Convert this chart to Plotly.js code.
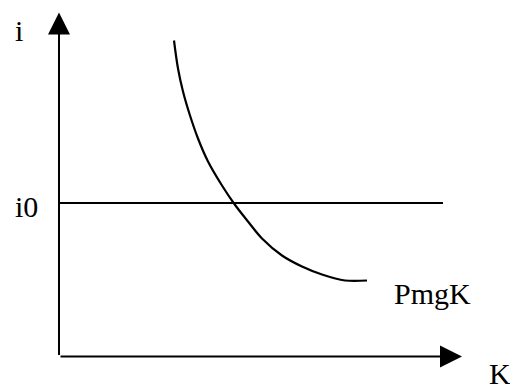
<!DOCTYPE html>
<html>
<head>
<meta charset="utf-8">
<script src="https://cdn.plot.ly/plotly-3.0.1.min.js"></script>
<style>
  html, body { margin: 0; padding: 0; background: #fff; }
  #chart { width: 510px; height: 390px; }
</style>
</head>
<body>
<div id="chart"></div>
<script>
// marginal product of capital curve (K, i)
var pmgK = [115, 119, 124, 131, 139, 149, 163, 175, 189, 203, 223, 243, 263, 286, 308];
var pmgI = [316, 288, 265, 241, 218, 195, 171, 153, 135, 118, 101, 90, 82, 76, 76];

// interest rate level i0
var i0K = [0, 384];
var i0I = [153.5, 153.5];

// axis tips
var kAxisEnd = 403;
var iAxisEnd = 344;

var font = {family: 'Liberation Serif', size: 30, color: '#000'};

var traces = [
    {
        x: i0K,
        y: i0I,
        type: 'scatter',
        mode: 'lines',
        line: {color: '#000', width: 2}
    },
    {
        x: pmgK,
        y: pmgI,
        type: 'scatter',
        mode: 'lines',
        line: {color: '#000', width: 2.2, shape: 'spline', smoothing: 1}
    }
];

var layout = {
    width: 510,
    height: 390,
    margin: {l: 0, r: 0, t: 0, b: 0},
    paper_bgcolor: '#fff',
    plot_bgcolor: '#fff',
    showlegend: false,
    hovermode: false,
    xaxis: {range: [-59, 451], visible: false, fixedrange: true},
    yaxis: {range: [-33.5, 356.5], visible: false, fixedrange: true},
    annotations: [
        // axes with arrow heads
        {x: 0, y: iAxisEnd, ax: 0, ay: 0, axref: 'x', ayref: 'y', text: '',
         showarrow: true, arrowhead: 2, arrowsize: 2.2, arrowwidth: 2, arrowcolor: '#000'},
        {x: kAxisEnd, y: 0, ax: 0, ay: 0, axref: 'x', ayref: 'y', text: '',
         showarrow: true, arrowhead: 2, arrowsize: 2.2, arrowwidth: 2, arrowcolor: '#000'},
        // labels
        {x: -46, y: 326.5, text: 'i', showarrow: false, xanchor: 'left', yanchor: 'middle', font: font},
        {x: -46, y: 150.5, text: 'i0', showarrow: false, xanchor: 'left', yanchor: 'middle', font: font},
        {x: 333, y: 63.5, text: 'PmgK', showarrow: false, xanchor: 'left', yanchor: 'middle', font: font},
        {x: 428, y: -17, text: 'K', showarrow: false, xanchor: 'left', yanchor: 'middle', font: font}
    ]
};

Plotly.newPlot('chart', traces, layout, {displayModeBar: false, staticPlot: true});
</script>
</body>
</html>
